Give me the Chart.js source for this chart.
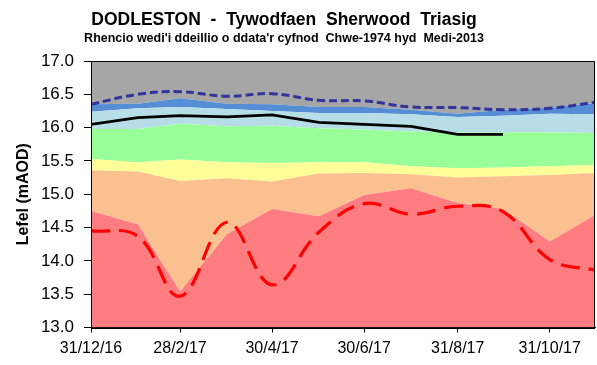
<!DOCTYPE html>
<html>
<head>
<meta charset="utf-8">
<script src="https://cdn.jsdelivr.net/npm/chart.js@4/dist/chart.umd.min.js"></script>
<style>
  html, body { margin: 0; padding: 0; background: #fff; }
  #wrap { width: 597px; height: 365px; position: relative; }
</style>
</head>
<body>
<div id="wrap"><canvas id="c" width="597" height="365"></canvas></div>
<script>
// Month-end dates of the plotted year
const monthEnds = ['2016-12-31','2017-01-31','2017-02-28','2017-03-31','2017-04-30','2017-05-31',
                   '2017-06-30','2017-07-31','2017-08-31','2017-09-30','2017-10-31','2017-11-30'];
const tickDates  = ['2016-12-31','2017-02-28','2017-04-30','2017-06-30','2017-08-31','2017-10-31'];
const tickLabels = ['31/12/16','28/2/17','30/4/17','30/6/17','31/8/17','31/10/17'];
const yTicks = [13.0, 13.5, 14.0, 14.5, 15.0, 15.5, 16.0, 16.5, 17.0];

// Upper edge of each ranking band (mAOD)
const topRed       = [14.75,14.55,13.54,14.40,14.78,14.67,14.99,15.09,14.87,14.78,14.29,14.69];
const topOrange    = [15.36,15.34,15.20,15.24,15.19,15.31,15.32,15.30,15.25,15.27,15.29,15.32];
const topYellow    = [15.53,15.48,15.52,15.48,15.47,15.48,15.48,15.42,15.39,15.40,15.42,15.44];
const topGreen     = [15.98,15.98,16.06,16.02,16.03,15.99,15.97,15.94,15.93,15.93,15.93,15.92];
const topLightBlue = [16.24,16.29,16.31,16.28,16.25,16.22,16.22,16.20,16.16,16.18,16.21,16.20];
const topBlue      = [16.35,16.36,16.44,16.36,16.35,16.31,16.31,16.27,16.21,16.27,16.30,16.37];
const topGrey      = [17,17,17,17,17,17,17,17,17,17,17,17];

// Record maximum, record minimum and the 2017 levels
const maxLevel   = [16.35,16.50,16.54,16.47,16.51,16.41,16.40,16.31,16.30,16.27,16.29,16.38];
const minLevel   = [14.45,14.37,13.47,14.58,13.64,14.43,14.86,14.70,14.82,14.74,14.02,13.86];
const level2017  = [16.05,16.15,16.18,16.16,16.19,16.08,16.05,16.02,15.90,15.90,null,null];

const DAY = 86400000;
const t0 = Date.parse(monthEnds[0]);
const dayOf = s => Math.round((Date.parse(s) - t0) / DAY);
const xs = monthEnds.map(dayOf);
const tickDays = tickDates.map(dayOf);
const pts = arr => arr.map((v, i) => ({ x: xs[i], y: v }));

function band(arr, color, fill) {
  return { data: pts(arr), backgroundColor: color, borderWidth: 0, pointRadius: 0,
           tension: 0, fill: fill, order: 2 };
}

const padLeft = 14, plotLeft = 91, plotTop = 61, plotBottom = 327.5;
const FONT = '"Liberation Sans", Arial, sans-serif';

const frameAndTitles = {
  id: 'frameAndTitles',
  afterDatasetsDraw(chart) {
    const { ctx, chartArea: a } = chart;
    ctx.save();
    ctx.strokeStyle = '#000';
    ctx.lineWidth = 1;
    ctx.strokeRect(Math.round(a.left) + 0.5, Math.round(a.top) + 0.5,
                   Math.round(a.right - a.left) - 1, Math.round(a.bottom - a.top));
    ctx.restore();
  },
  afterDraw(chart) {
    const ctx = chart.ctx;
    ctx.save();
    ctx.fillStyle = '#000';
    ctx.textAlign = 'center';
    ctx.textBaseline = 'alphabetic';
    ctx.font = 'bold 17.5px ' + FONT;
    ctx.fillText('DODLESTON  -  Tywodfaen  Sherwood  Triasig', 284, 25);
    ctx.font = 'bold 12.5px ' + FONT;
    ctx.fillText("Rhencio wedi'i ddeillio o ddata'r cyfnod  Chwe-1974 hyd  Medi-2013", 284, 42);
    ctx.restore();
  }
};

new Chart(document.getElementById('c'), {
  type: 'line',
  data: {
    datasets: [
      { data: pts(maxLevel), borderColor: '#333399', borderWidth: 3, borderDash: [8, 4],
        pointRadius: 0, tension: 0.4, fill: false, order: 0 },
      { data: pts(level2017), borderColor: '#000000', borderWidth: 2.8,
        pointRadius: 0, tension: 0, fill: false, spanGaps: false, order: 0 },
      { data: pts(minLevel), borderColor: '#FF0000', borderWidth: 3.2, borderDash: [19, 9],
        pointRadius: 0, tension: 0.4, fill: false, order: 0 },
      band(topRed,       '#FF7C80', 'start'),
      band(topOrange,    '#FAC090', '-1'),
      band(topYellow,    '#FFFF99', '-1'),
      band(topGreen,     '#99FF99', '-1'),
      band(topLightBlue, '#B7DEE8', '-1'),
      band(topBlue,      '#558ED5', '-1'),
      band(topGrey,      '#A6A6A6', '-1')
    ]
  },
  options: {
    responsive: false,
    animation: false,
    layout: { padding: { top: plotTop, right: 2, left: padLeft, bottom: 0 } },
    plugins: { legend: { display: false }, tooltip: { enabled: false }, title: { display: false } },
    scales: {
      x: {
        type: 'linear',
        min: xs[0], max: xs[xs.length - 1],
        afterBuildTicks: s => { s.ticks = tickDays.map(v => ({ value: v })); },
        afterFit: s => { s.height = 365 - plotBottom; },
        ticks: {
          autoSkip: false, maxRotation: 0, padding: 6,
          color: '#000',
          font: { family: FONT, size: 16 },
          callback: (v) => tickLabels[tickDays.indexOf(v)]
        },
        grid: { drawOnChartArea: false, drawTicks: true, tickLength: 5, color: '#000' },
        border: { display: true, color: '#000', width: 1 }
      },
      y: {
        type: 'linear',
        min: 13, max: 17,
        afterBuildTicks: s => { s.ticks = yTicks.map(v => ({ value: v })); },
        afterFit: s => { s.width = plotLeft - padLeft; },
        title: {
          display: true, text: 'Lefel (mAOD)', color: '#000', padding: { top: 0, bottom: 0 },
          font: { family: FONT, size: 16, weight: 'bold' }
        },
        ticks: {
          color: '#000', padding: 10,
          font: { family: FONT, size: 17 },
          callback: v => Number(v).toFixed(1)
        },
        grid: { drawOnChartArea: false, drawTicks: true, tickLength: 7, color: '#000' },
        border: { display: true, color: '#000', width: 1 }
      }
    }
  },
  plugins: [frameAndTitles]
});
</script>
</body>
</html>
